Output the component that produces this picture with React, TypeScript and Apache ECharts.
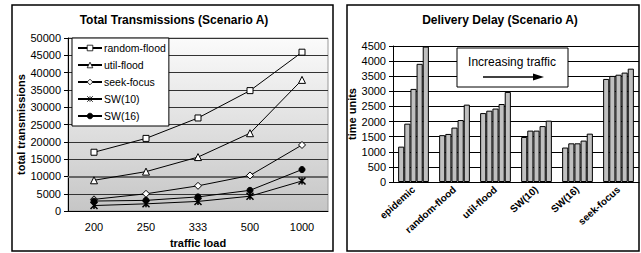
import React, { useEffect, useRef } from "react";
import * as echarts from "echarts";

const loads = ["200", "250", "333", "500", "1000"];
const randomFlood = [17000, 21000, 26900, 34800, 45900];
const utilFlood = [8900, 11400, 15600, 22500, 37900];
const seekFocus = [3400, 5000, 7300, 10300, 19100];
const sw10 = [1600, 2100, 2800, 4300, 8700];
const sw16 = [2900, 3100, 4100, 6000, 12000];

const schemes = ["epidemic", "random-flood", "util-flood", "SW(10)", "SW(16)", "seek-focus"];
const delay200 = [1170, 1550, 2280, 1490, 1140, 3410];
const delay250 = [1930, 1590, 2360, 1700, 1280, 3510];
const delay333 = [3080, 1800, 2430, 1700, 1280, 3550];
const delay500 = [3910, 2050, 2580, 1850, 1370, 3620];
const delay1000 = [4480, 2560, 2980, 2030, 1600, 3750];

const FONT = "'Liberation Sans', Arial, sans-serif";

export default function App() {
  const ref = useRef<HTMLDivElement>(null);
  useEffect(() => {
    document.body.style.margin = "0";
    const chart = echarts.init(ref.current!, null, { renderer: "svg" });
    const starPath = "path://M0,0L10,10M10,0L0,10M5,0L5,10";
    const lineSeries = (name: string, data: number[], symbol: string, size: number, fill: string, extra: any = {}) => ({
      type: "line",
      name,
      data,
      xAxisIndex: 0,
      yAxisIndex: 0,
      symbol,
      symbolSize: size,
      showAllSymbol: true,
      lineStyle: { color: "#000", width: 1 },
      itemStyle: { color: fill, borderColor: "#000", borderWidth: 1 },
      emphasis: { disabled: true },
      z: 5,
      ...extra,
    });
    const barSeries = (name: string, data: number[]) => ({
      type: "bar",
      name,
      data,
      xAxisIndex: 1,
      yAxisIndex: 1,
      barGap: "0%",
      barCategoryGap: "25%",
      itemStyle: { color: "#c0c0c0", borderColor: "#000", borderWidth: 1 },
      emphasis: { disabled: true },
    });
    const plain = (v: number) => String(v);
    chart.setOption({
      animation: false,
      textStyle: { fontFamily: FONT },
      title: [
        {
          text: "Total Transmissions (Scenario A)",
          left: 174,
          top: 14,
          textAlign: "center",
          padding: 0,
          textStyle: { fontFamily: FONT, fontSize: 12, fontWeight: "bold", color: "#000" },
        },
        {
          text: "Delivery Delay (Scenario A)",
          left: 500,
          top: 14,
          textAlign: "center",
          padding: 0,
          textStyle: { fontFamily: FONT, fontSize: 12, fontWeight: "bold", color: "#000" },
        },
      ],
      legend: {
        data: ["random-flood", "util-flood", "seek-focus", "SW(10)", "SW(16)"],
        orient: "vertical",
        left: 72,
        top: 38,
        itemWidth: 24,
        itemHeight: 7,
        itemGap: 5,
        padding: [4, 3, 4, 5],
        backgroundColor: "#fff",
        borderColor: "#000",
        borderWidth: 1,
        itemStyle: { borderWidth: 0.8 },
        textStyle: { fontFamily: FONT, fontSize: 10.5, color: "#000", padding: [0, 0, 0, -3], lineHeight: 12 },
        z: 10,
      },
      grid: [
        {
          left: 68,
          top: 38,
          width: 260,
          height: 175,
          show: true,
          borderColor: "#999",
          borderWidth: 1,
          backgroundColor: {
            type: "linear",
            x: 0,
            y: 0,
            x2: 0,
            y2: 1,
            colorStops: [
              { offset: 0, color: "#fbfbfb" },
              { offset: 1, color: "#c6c6c6" },
            ],
          },
        },
        { left: 393, top: 46, width: 246, height: 136 },
      ],
      xAxis: [
        {
          type: "category",
          gridIndex: 0,
          data: loads,
          name: "traffic load",
          nameLocation: "middle",
          nameGap: 24,
          nameTextStyle: { fontFamily: FONT, fontSize: 11, fontWeight: "bold", color: "#000" },
          axisLine: { lineStyle: { color: "#000" } },
          axisTick: { length: 4, lineStyle: { color: "#000" } },
          axisLabel: { fontFamily: FONT, fontSize: 11, color: "#000", margin: 10 },
        },
        {
          type: "category",
          gridIndex: 1,
          data: schemes,
          axisLine: { lineStyle: { color: "#000" } },
          axisTick: { length: 4, lineStyle: { color: "#000" } },
          axisLabel: { fontFamily: FONT, fontSize: 10, fontWeight: "bold", color: "#000", rotate: 42, margin: 6, interval: 0 },
        },
      ],
      yAxis: [
        {
          type: "value",
          gridIndex: 0,
          min: 0,
          max: 50000,
          interval: 5000,
          name: "total transmissions",
          nameLocation: "middle",
          nameGap: 42,
          nameTextStyle: { fontFamily: FONT, fontSize: 11, fontWeight: "bold", color: "#000" },
          axisLine: { show: true, lineStyle: { color: "#000" } },
          axisTick: { show: true, length: 4, lineStyle: { color: "#000" } },
          axisLabel: { fontFamily: FONT, fontSize: 11, color: "#000", margin: 7, formatter: plain },
          splitLine: { lineStyle: { color: "#333", width: 1 } },
        },
        {
          type: "value",
          gridIndex: 1,
          min: 0,
          max: 4500,
          interval: 500,
          name: "time units",
          nameLocation: "middle",
          nameGap: 31,
          nameTextStyle: { fontFamily: FONT, fontSize: 11, fontWeight: "bold", color: "#000" },
          axisLine: { show: true, lineStyle: { color: "#000" } },
          axisTick: { show: true, length: 4, lineStyle: { color: "#000" } },
          axisLabel: { fontFamily: FONT, fontSize: 11, color: "#000", margin: 7, formatter: plain },
          splitLine: { lineStyle: { color: "#000", width: 1 } },
        },
      ],
      series: [
        lineSeries("random-flood", randomFlood, "rect", 6, "#fff", {
          markLine: {
            silent: true,
            symbol: "none",
            label: { show: false },
            lineStyle: { color: "#666", width: 2, type: "solid" },
            data: [{ yAxis: 10000 }],
            z: 1,
          },
        }),
        lineSeries("util-flood", utilFlood, "triangle", 7, "#fff"),
        lineSeries("seek-focus", seekFocus, "diamond", 7, "#fff"),
        lineSeries("SW(10)", sw10, starPath, 7, "#000", { itemStyle: { color: "#000", borderColor: "#000", borderWidth: 1.5 } }),
        lineSeries("SW(16)", sw16, "circle", 6, "#000"),
        barSeries("200", delay200),
        barSeries("250", delay250),
        barSeries("333", delay333),
        barSeries("500", delay500),
        barSeries("1000", delay1000),
      ],
      graphic: [
        {
          type: "rect",
          shape: { x: 12, y: 5, width: 321, height: 246 },
          style: { fill: "none", stroke: "#000", lineWidth: 1.5 },
          silent: true,
        },
        {
          type: "rect",
          shape: { x: 347, y: 5, width: 292, height: 246 },
          style: { fill: "none", stroke: "#000", lineWidth: 1.5 },
          silent: true,
        },
        {
          type: "rect",
          shape: { x: 457, y: 48, width: 111, height: 39 },
          style: { fill: "#fff", stroke: "#000", lineWidth: 1 },
          z: 20,
          silent: true,
        },
        {
          type: "text",
          x: 512,
          y: 62,
          style: { text: "Increasing traffic", fontFamily: FONT, fontSize: 12, fill: "#000", align: "center", verticalAlign: "middle" },
          z: 21,
          silent: true,
        },
        {
          type: "line",
          shape: { x1: 483, y1: 77, x2: 535, y2: 77 },
          style: { stroke: "#000", lineWidth: 1.5 },
          z: 21,
          silent: true,
        },
        {
          type: "polygon",
          shape: { points: [[533, 73.5], [544, 77], [533, 80.5]] },
          style: { fill: "#000" },
          z: 21,
          silent: true,
        },
      ],
    });
    return () => chart.dispose();
  }, []);
  return <div ref={ref} style={{ position: "absolute", left: 0, top: 0, width: 641, height: 253 }} />;
}
